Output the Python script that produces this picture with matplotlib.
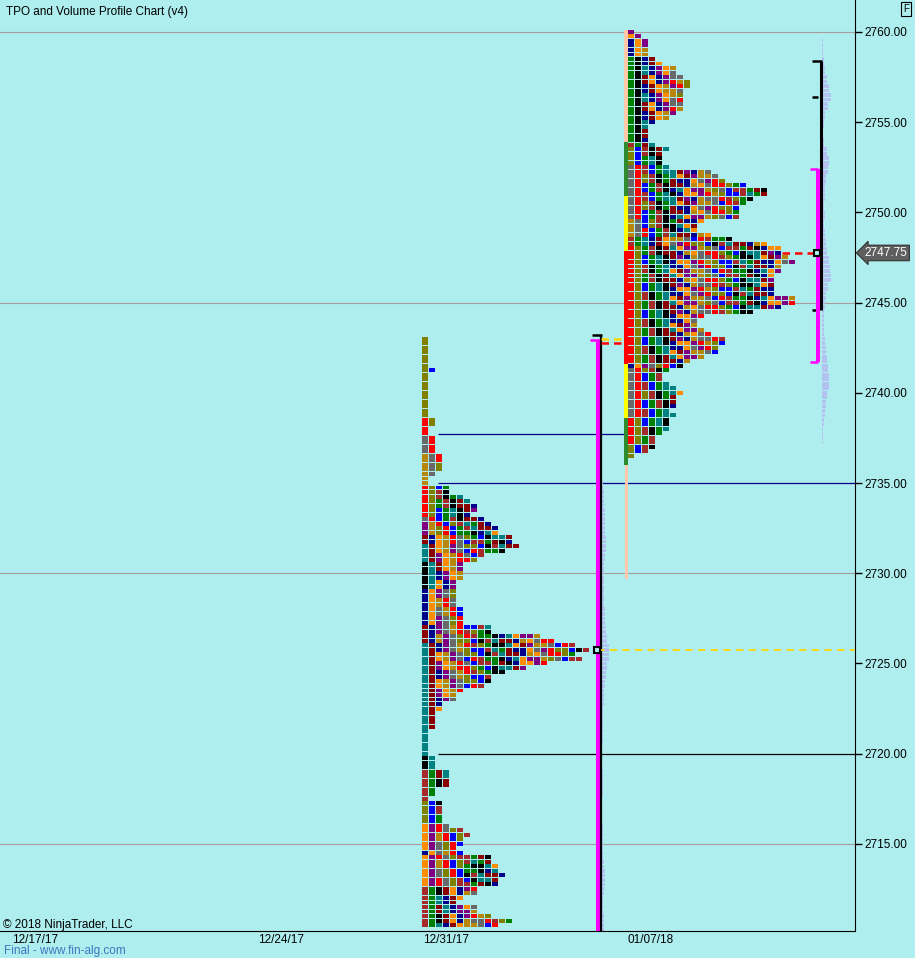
import numpy as np
import matplotlib.pyplot as plt

plt.rcParams['font.family'] = ['Liberation Sans', 'DejaVu Sans']

# ---- data ----
TICK = 0.25

# TPO period colours, in period order
period_names = ['red', 'olive', 'blue', 'brown', 'green', 'black', 'teal',
                'darkred', 'navy', 'orange', 'purple', 'goldenrod', 'gray']
period_hex = {'red': '#ff0000', 'olive': '#808000', 'blue': '#0000ff',
              'brown': '#a52a2a', 'green': '#008000', 'black': '#000000',
              'teal': '#008080', 'darkred': '#8b0000', 'navy': '#00008b',
              'orange': '#ff8c00', 'purple': '#800080',
              'goldenrod': '#b8860b', 'gray': '#696969'}

# left (composite) profile, rows from the top price downward
left_top = 2743.0
left_widths = [1, 1, 1, 1, 1, 1, 1, 2, 1, 1, 1, 1, 1, 1, 1, 1, 1, 1,
               2, 2, 1, 1, 2, 2, 2, 2, 3, 3, 3, 3, 2, 1, 1,
               4, 4, 6, 7, 8, 8, 7, 9, 10, 11, 11, 13, 13, 14, 12, 9, 8, 6, 6, 6, 6,
               5, 5, 5, 5, 5, 5, 6, 6, 6, 6,
               10, 10, 17, 19, 22, 24, 22, 23, 18, 15, 12, 10, 10, 9, 6, 5, 5, 3, 3, 2, 2, 2, 2,
               1, 1, 1, 1, 1, 1,
               2, 2, 2, 4, 4, 4, 4, 2, 2, 1,
               3, 3, 3, 3, 3, 4, 6, 7, 6, 6, 5, 6,
               10, 10, 11, 11, 12, 11, 11, 8, 8, 6, 5, 8, 8, 10, 13, 11]
left_first_color = ['olive', 'red', 'gray', 'goldenrod', 'red', 'gray', 'purple',
                    'darkred', 'teal', 'black', 'navy', 'darkred', 'teal', 'black',
                    'brown', 'olive', 'orange', 'navy', 'orange', 'brown']
left_first_run = [18, 4, 4, 7, 7, 1, 3, 2, 4, 6, 8, 4, 25, 3, 7, 5, 6, 1, 7, 9]
left_poc = 2725.75

# right profile
right_top = 2760.0
right_widths = [1, 2, 3, 3, 3, 3,
                4, 5, 7, 7, 8, 9, 9, 8, 8, 8, 8, 8, 7, 6, 4, 3, 3, 3, 3,
                4, 6, 5, 5, 5, 6,
                12, 13, 14, 17, 20, 20, 18, 17, 16, 16, 16,
                11, 10, 10, 12, 15, 20, 22, 22, 23, 24, 22,
                22, 21, 21, 21, 21, 21, 24, 24, 22, 18,
                11, 10, 10, 11, 12, 14, 14, 13, 13, 11, 9,
                8, 6, 5, 5, 6, 7, 8, 7, 7, 7, 6, 7, 6, 6, 6, 5, 4, 4, 4, 3, 1]
right_first_color = ['purple', 'orange', 'navy', 'green', 'brown', 'olive', 'gray',
                     'goldenrod', 'brown', 'red', 'navy', 'gray', 'red', 'olive']
right_first_run = [1, 1, 4, 19, 1, 4, 12, 4, 2, 26, 1, 11, 6, 3]
right_poc = 2747.75

# session range bar beside the right profile
bar_colors = ['#ffc8a8', '#2e8b2e', '#ffff00', '#ff0000', '#ffff00', '#2e8b2e']
bar_tops = [2760.1, 2753.9, 2750.9, 2747.85, 2741.6, 2738.6]
bar_bottoms = [2753.9, 2750.9, 2747.85, 2741.6, 2738.6, 2736.0]
bar_tail = (2736.0, 2729.7)

# value area / range brackets
left_range_high = 2743.2
left_va_high = 2742.9
right_range = (2758.4, 2744.6)
right_range_mid = 2756.4
right_va = (2752.4, 2741.7)

# level lines
level_prices = [2737.7, 2735.0, 2720.0]
level_colors = ['#00008b', '#00008b', '#000000']
level_long = [False, True, True]

# volume profiles (0.5 pt bins, top downward)
left_vol_top = 2735.0
left_volume = [1, 2, 2, 3, 3, 3, 4, 4, 3, 2, 2, 2, 2, 2, 3, 3, 4, 5, 7, 7,
               5, 4, 3, 2, 2, 1, 1, 1, 1, 0, 0, 0, 1, 1, 1, 0, 0, 0, 1, 1,
               1, 1, 2, 3, 3, 2, 1, 1, 2, 2]
right_vol_top = 2759.5
right_volume = [1, 1, 2, 3, 5, 7, 9, 6, 3, 2, 1, 2, 5, 7, 6, 4, 3, 3, 2, 3,
                2, 3, 4, 5, 7, 8, 9, 6, 4, 3, 2, 2, 2, 3, 4, 5, 6, 7, 7, 5,
                4, 3, 2, 1, 1]

date_labels = ['12/17/17', '12/24/17', '12/31/17', '01/07/18']
price_ticks = [2715, 2720, 2725, 2730, 2735, 2740, 2745, 2750, 2755, 2760]
grid_prices = [2760, 2745, 2730, 2715]

# ---- layout (x in TPO columns) ----
BG = '#afeeee'
XMAX = 855 / 7
LEFT_X0 = 422 / 7
RIGHT_X0 = 628 / 7
CELL_W = 6 / 7
CELL_H = 0.22
date_pos = [35 / 7, 281 / 7, 446 / 7, 651 / 7]

fig = plt.figure(figsize=(9.15, 9.58), dpi=100, facecolor=BG)
ax = fig.add_axes([0, 27 / 958, 855 / 915, 931 / 958], facecolor=BG)
ax.set_xlim(0, XMAX)
ax.set_ylim(2710.17, 2761.77)


def draw_profile(top, widths, first_color, first_run, x0):
    bases = []
    for name, n in zip(first_color, first_run):
        bases += [period_names.index(name)] * n
    ys, lefts, cols = [], [], []
    for i, w in enumerate(widths):
        p = top - i * TICK
        b = bases[min(i, len(bases) - 1)]
        for c in range(w):
            # later columns skip some periods, so the letters drift row to row
            step = c + (c >= 2) * ((i // 2 + c) % 3) + (c >= 6) * ((i + c) % 2)
            ys.append(p)
            lefts.append(x0 + c)
            cols.append(period_hex[period_names[(b + step) % len(period_names)]])
    ax.barh(ys, CELL_W, height=CELL_H, left=lefts, color=cols, zorder=3)


def draw_volume(top, vols, x0):
    ys, ws = [], []
    for i, v in enumerate(vols):
        for k in range(2):
            ys.append(top - i * 0.5 - k * TICK)
            ws.append(v / 7)
    ax.barh(ys, ws, height=0.2, left=x0, color='#b4c2f2', zorder=2)


# grid lines
for g in grid_prices:
    ax.axhline(g, color='#a89c9c', lw=0.8, zorder=1)

# level lines
for p, c, long_ in zip(level_prices, level_colors, level_long):
    ax.hlines(p, LEFT_X0 + 16 / 7, XMAX if long_ else 625 / 7, color=c, lw=0.9, zorder=2)

draw_volume(left_vol_top, left_volume, 602 / 7)
draw_volume(right_vol_top, right_volume, 822 / 7)

draw_profile(left_top, left_widths, left_first_color, left_first_run, LEFT_X0)
draw_profile(right_top, right_widths, right_first_color, right_first_run, RIGHT_X0)

# session range bar
ax.bar(624 / 7, [t - b for t, b in zip(bar_tops, bar_bottoms)], width=4 / 7,
       bottom=bar_bottoms, color=bar_colors, align='edge', zorder=3)
ax.bar(624.5 / 7, bar_tail[0] - bar_tail[1], width=3 / 7, bottom=bar_tail[1],
       color='#ffc8a8', align='edge', zorder=3)

# left brackets (previous profile)
ax.vlines(598 / 7, 2709, left_va_high, color='#ff00ff', lw=2.9, zorder=4)
ax.hlines(left_va_high, 590 / 7, 600 / 7, color='#ff00ff', lw=1.8, zorder=4)
ax.vlines(601 / 7, 2709, left_range_high, color='black', lw=1.6, zorder=4)
ax.hlines(left_range_high, 592 / 7, 602 / 7, color='black', lw=1.8, zorder=4)
ax.hlines(2743.0, 601 / 7, 625 / 7, color='#ffd700', lw=1.8, linestyles=(0, (3, 2)), zorder=4)
ax.hlines(2742.75, 601 / 7, 625 / 7, color='#ff0000', lw=1.8, linestyles=(0, (3, 2)), zorder=4)

# right brackets
ax.vlines(821 / 7, right_range[1], right_range[0], color='black', lw=2.2, zorder=4)
ax.hlines(right_range[0], 812 / 7, 822 / 7, color='black', lw=1.8, zorder=4)
ax.hlines([right_range_mid, right_range[1]], 812 / 7, 818 / 7, color='black', lw=1.8, zorder=4)
ax.vlines(818 / 7, right_va[1], right_va[0], color='#ff00ff', lw=2.9, zorder=5)
ax.hlines(list(right_va), 810 / 7, 818 / 7, color='#ff00ff', lw=1.8, zorder=5)

# POC lines and markers
ax.hlines(left_poc, 597 / 7, XMAX, color='#ffd700', lw=1.3, linestyles=(0, (4, 3)), zorder=4)
ax.hlines(right_poc, RIGHT_X0 + right_widths[int((right_top - right_poc) / TICK)],
          815 / 7, color='#ff0000', lw=1.8, linestyles=(0, (3, 2)), zorder=4)
ax.plot([596.5 / 7, 817 / 7], [left_poc, right_poc], 's', ms=4.5, mfc=BG,
        mec='black', mew=1.5, zorder=6)

# axes styling
for s in ['left', 'top']:
    ax.spines[s].set_visible(False)
ax.spines['right'].set_color('black')
ax.spines['bottom'].set_color('black')
ax.yaxis.tick_right()
ax.set_yticks(price_ticks)
ax.set_yticklabels(['%.2f' % t for t in price_ticks], fontsize=8.5)
ax.tick_params(axis='y', length=5, width=1, pad=2)
ax.set_xticks(date_pos)
ax.set_xticklabels(date_labels, fontsize=8.5)
ax.tick_params(axis='x', length=0, pad=2)

# last price label
ax.annotate('2747.75', xy=(1.0, right_poc), xycoords=('axes fraction', 'data'),
            xytext=(7, 0), textcoords='offset points', ha='left', va='center',
            fontsize=8.5, color='white',
            bbox=dict(boxstyle='larrow,pad=0.15', fc='#5f5f5f', ec='#303030', lw=0.8),
            annotation_clip=False)

fig.text(6 / 915, 1 - 12 / 958, 'TPO and Volume Profile Chart (v4)', fontsize=8.5,
         va='center', ha='left')
fig.text(3 / 915, 1 - 925 / 958, '\u00a9 2018 NinjaTrader, LLC', fontsize=8.5,
         va='center', ha='left')
fig.text(4 / 915, 1 - 951 / 958, 'Final - www.fin-alg.com', fontsize=8.5,
         va='center', ha='left', color='#3a78c0')
fig.text(906 / 915, 1 - 9 / 958, 'F', fontsize=7, va='center', ha='center',
         bbox=dict(boxstyle='square,pad=0.2', fc=BG, ec='black', lw=0.8))

fig.savefig('out.png', dpi=100, facecolor=BG)
